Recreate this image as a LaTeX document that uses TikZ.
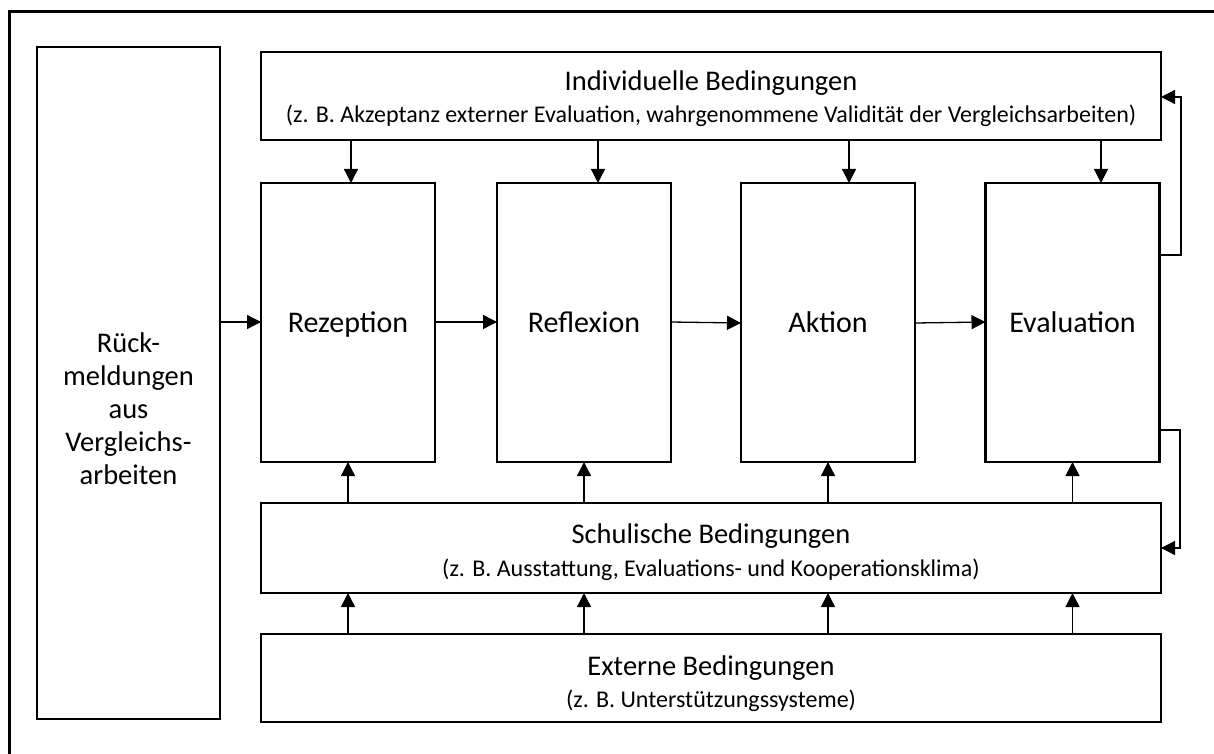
\documentclass[tikz,border=0pt]{standalone}
\usepackage{fontspec}
\setmainfont{Carlito}
\usetikzlibrary{arrows.meta}
\begin{document}
\begin{tikzpicture}[x=1pt,y=-1pt,
  box/.style={draw,line width=2.4pt,inner sep=0pt,outer sep=0pt},
  proc/.style={box,minimum width=174pt,minimum height=279pt},
  wide/.style={box,minimum width=900pt},
  arr/.style={line width=1.3pt,-{Triangle[length=14pt,width=14pt]}},
  ttl/.style={anchor=base,inner sep=0pt,font=\fontsize{28.5}{33}\selectfont},
  sub/.style={anchor=base,inner sep=0pt,font=\fontsize{24}{28}\selectfont},
  lbl/.style={anchor=base,inner sep=0pt,font=\fontsize{30}{36}\selectfont}]
\useasboundingbox (0,0) rectangle (1214,754);
% outer frame (continues past the right and lower edge)
\draw[line width=3pt] (9.5,790) |- (1260,11.5);

% feedback source
\node[box,minimum width=183pt,minimum height=672pt] (fb) at (128.5,383) {};
\node[align=center,inner sep=0pt,font=\fontsize{28.5}{33}\selectfont] (fbtext) at (128.5,409)
  {Rück-\\meldungen\\aus\\Vergleichs-\\arbeiten};

% conditions
\node[wide,minimum height=88pt] (indiv) at (711,96) {};
\node[ttl] (indivT) at (711,90.5) {Individuelle Bedingungen};
\node[sub] (indivS) at (711,123)
  {(z. B. Akzeptanz externer Evaluation, wahrgenommene Validität der Vergleichsarbeiten)};
\node[wide,minimum height=90pt] (schul) at (711,548) {};
\node[ttl] (schulT) at (711,543.5) {Schulische Bedingungen};
\node[sub] (schulS) at (711,576) {(z. B. Ausstattung, Evaluations- und Kooperationsklima)};
\node[wide,minimum height=88pt] (ext) at (711,678) {};
\node[ttl] (extT) at (711,675) {Externe Bedingungen};
\node[sub] (extS) at (711,707) {(z. B. Unterstützungssysteme)};

% process stages
\node[proc] (rez)  at (348,322.5)  {};
\node[proc] (refl) at (584,322.5)  {};
\node[proc] (akt)  at (828,322.5)  {};
\node[proc] (eval) at (1072.5,322.5) {};
\node[lbl] (rezT)  at (rez |- 0,332)  {Rezeption};
\node[lbl] (reflT) at (refl |- 0,332) {Reflexion};
\node[lbl] (aktT)  at (akt |- 0,332)  {Aktion};
\node[lbl] (evalT) at (eval |- 0,332) {Evaluation};

% main sequence
\draw[arr] (fb.east |- 0,322) -- (rez.west |- 0,322);
\draw[arr] (rez.east |- 0,322) -- (refl.west |- 0,322);
\draw[arr] (refl.east |- 0,322) -- (akt.west |- 0,323);
\draw[arr] (akt.east |- 0,323) -- (eval.west |- 0,322);

% individual conditions act on every stage
\foreach \s/\x in {rez/351,refl/598,akt/849,eval/1101}
  \draw[arr] (indiv.south -| \x,0) -- (\s.north -| \x,0);

% school conditions act on every stage
\foreach \s in {rez,refl,akt,eval}
  \draw[arr] (schul.north -| \s) -- (\s.south);

% external conditions act on school conditions
\foreach \s in {rez,refl,akt,eval}
  \draw[arr] (ext.north -| \s) -- (schul.south -| \s);

% feedback loops from the evaluation stage
\coordinate (up) at (1181,97);
\coordinate (dn) at (1180,548);
\draw[arr] (eval.east |- 0,255) -| (up) -- (indiv.east |- up);
\draw[arr] (eval.east |- 0,430) -| (dn) -- (schul.east |- dn);
\end{tikzpicture}
\end{document}
